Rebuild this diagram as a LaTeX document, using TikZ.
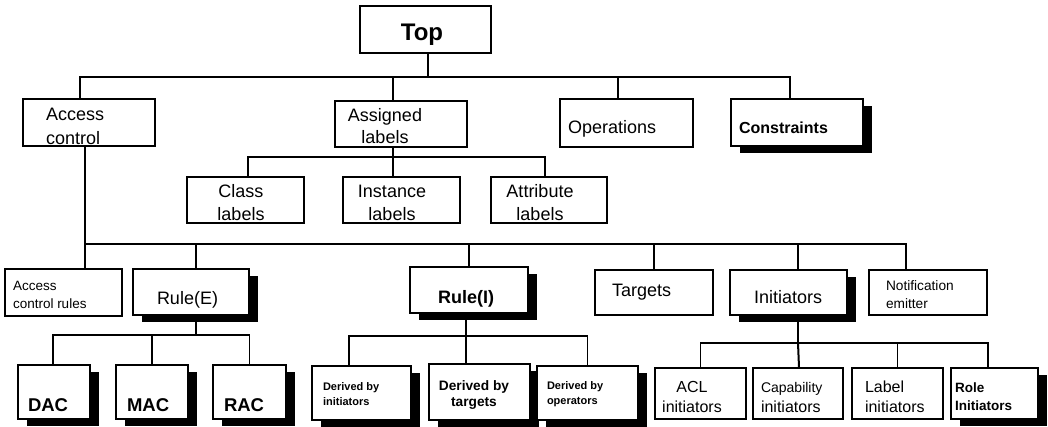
\documentclass[tikz,border=0pt]{standalone}
\usepackage{fontspec}
\setmainfont{Liberation Sans}
\usetikzlibrary{shadows}
\newcommand\twol[3]{\begin{tabular}[t]{@{}#1@{}}#2\\#3\end{tabular}}
\newcommand\mkbox[6]{\node[box,#6,minimum width={(#4-#2)*1pt},minimum height={(#5-#3)*1pt}] (#1) at ({(#2+#4)/2},{(#3+#5)/2}) {};}
\tikzset{
  box/.style={draw, line width=1.4pt, fill=white, rectangle, inner sep=0pt},
  shd/.style={general shadow={fill=black, shadow xshift=9pt, shadow yshift=-7pt}},
  lin/.style={line width=1.4pt},
  thk/.style={line width=2pt},
  txt/.style={inner sep=0pt, outer sep=0pt},
  f18/.style={font=\fontsize{18}{23}\selectfont},
}
\begin{document}
\begin{tikzpicture}[x=1pt, y=-1pt]
\fill[white] (0,0) rectangle (1048,426);
\useasboundingbox (0,0) rectangle (1048,426);
% boxes
\mkbox{top}{360}{6}{491}{53}{}
\mkbox{acc}{23}{99}{155}{146}{}
\mkbox{asg}{335}{101}{467}{147}{}
\mkbox{ops}{560}{99}{693}{147}{}
\mkbox{con}{731}{99}{863}{146}{shd}
\mkbox{cls}{187}{177}{304}{223}{}
\mkbox{ins}{343}{177}{460}{223}{}
\mkbox{att}{491}{177}{607}{223}{}
\mkbox{acr}{5}{269}{122}{316}{}
\mkbox{re}{133}{269}{249}{315}{shd}
\mkbox{ri}{410}{267}{528}{313}{shd}
\mkbox{tg}{595}{270}{713}{315}{}
\mkbox{ini}{730}{270}{847}{315}{shd}
\mkbox{ne}{869}{270}{987}{315}{}
\mkbox{dac}{18}{365}{90}{419}{shd}
\mkbox{mac}{116}{365}{188}{419}{shd}
\mkbox{rac}{213}{365}{286}{419}{shd}
\mkbox{dbi}{312}{366}{411}{420}{shd}
\mkbox{dbt}{429}{364}{530}{420}{shd}
\mkbox{dbo}{537}{366}{638}{420}{shd}
\mkbox{acl}{655}{368}{746}{419}{}
\mkbox{cap}{753}{368}{843}{419}{}
\mkbox{lab}{852}{368}{943}{419}{}
\mkbox{rol}{951}{368}{1038}{419}{shd}
% junctions
\coordinate (j0) at (428,77);
\coordinate (j1) at (393,157);
\coordinate (j2) at (85,244);
\coordinate (j3) at (196,335);
\coordinate (j4) at (466,336);
\coordinate (j5) at (798,343);
% connectors
\draw[thk] ([xshift=2.5pt]top.south) -- (j0);
\draw[lin] ([xshift=-9pt]acc.north) |- (j0);
\draw[lin] ([xshift=-8pt]asg.north) |- (j0);
\draw[lin] ([xshift=-8.5pt]ops.north) |- (j0);
\draw[lin] ([xshift=-7pt]con.north) |- (j0);
\draw[lin] ([xshift=-8pt]asg.south) -- (j1);
\draw[lin] ([xshift=2.5pt]cls.north) |- (j1);
\draw[lin] ([xshift=-8.5pt]ins.north) |- (j1);
\draw[lin] ([xshift=-4pt]att.north) |- (j1);
\draw[lin] ([xshift=-4pt]acc.south) -- (j2);
\draw[lin] ([xshift=21.5pt]acr.north) |- (j2);
\draw[lin] ([xshift=5pt]re.north) |- (j2);
\draw[lin] (ri.north) |- (j2);
\draw[lin] (tg.north) |- (j2);
\draw[lin] ([xshift=9.5pt]ini.north) |- (j2);
\draw[lin] ([xshift=-22pt]ne.north) |- (j2);
\draw[lin] ([xshift=5pt]re.south) -- (j3);
\draw[lin] ([xshift=-1pt]dac.north) |- (j3);
\draw[lin] (mac.north) |- (j3);
\draw[lin] (rac.north) |- (j3);
\draw[thk] ([xshift=-3pt]ri.south) -- (j4);
\draw[lin] ([xshift=-12.5pt]dbi.north) |- (j4);
\draw[thk] ([xshift=-13.5pt]dbt.north) -- (j4);
\draw[lin] (dbo.north) |- (j4);
\draw[thk] ([xshift=9.5pt]ini.south) -- (j5);
\draw[lin] (acl.north) |- (j5);
\draw[thk] ([xshift=1pt]cap.north) -- (j5);
\draw[lin] (lab.north) |- (j5);
\draw[lin] ([xshift=-6.5pt]rol.north) |- (j5);
% texts
\node[txt, anchor=base, font=\bfseries\fontsize{24}{28}\selectfont] (t-top) at (422,40) {Top};
\node[txt, anchor=base west, font=\fontsize{18}{24}\selectfont] (t-acc) at (46,120) {\twol{l}{Access}{control}};
\node[txt, anchor=base, font=\fontsize{18}{22}\selectfont] (t-asg) at (385,121) {\twol{c}{Assigned}{labels}};
\node[txt, anchor=base west, f18] (t-ops) at (568,133) {Operations};
\node[txt, anchor=base west, font=\bfseries\fontsize{16}{20}\selectfont] (t-con) at (739,133) {Constraints};
\node[txt, anchor=base, f18] (t-cls) at (241,197) {\twol{c}{Class}{labels}};
\node[txt, anchor=base, f18] (t-ins) at (392,197) {\twol{c}{Instance}{labels}};
\node[txt, anchor=base, f18] (t-att) at (540,197) {\twol{c}{Attribute}{labels}};
\node[txt, anchor=base west, font=\fontsize{13.5}{18}\selectfont] (t-acr) at (13,290) {\twol{l}{Access}{control rules}};
\node[txt, anchor=base west, f18] (t-re) at (157,304) {Rule(E)};
\node[txt, anchor=base west, font=\bfseries\fontsize{18}{22}\selectfont] (t-ri) at (438,303) {Rule(I)};
\node[txt, anchor=base west, f18] (t-tg) at (612,296) {Targets};
\node[txt, anchor=base west, f18] (t-ini) at (754,303) {Initiators};
\node[txt, anchor=base west, font=\fontsize{13.7}{18}\selectfont] (t-ne) at (886,290) {\twol{l}{Notification}{emitter}};
\node[txt, anchor=base west, font=\bfseries\fontsize{18.5}{22}\selectfont] (t-dac) at (28,411) {DAC};
\node[txt, anchor=base west, font=\bfseries\fontsize{18.5}{22}\selectfont] (t-mac) at (127,411) {MAC};
\node[txt, anchor=base west, font=\bfseries\fontsize{18.5}{22}\selectfont] (t-rac) at (224,411) {RAC};
\node[txt, anchor=base west, font=\bfseries\fontsize{11}{15}\selectfont] (t-dbi) at (323,390) {\twol{l}{Derived by}{initiators}};
\node[txt, anchor=base, font=\bfseries\fontsize{13.7}{16}\selectfont] (t-dbt) at (474,390) {\twol{c}{Derived by}{targets}};
\node[txt, anchor=base west, font=\bfseries\fontsize{11}{15}\selectfont] (t-dbo) at (547,389) {\twol{l}{Derived by}{operators}};
\node[txt, anchor=base, font=\fontsize{16}{20}\selectfont] (t-acl) at (692,392) {\twol{c}{ACL}{initiators}};
\node[txt, anchor=base west, font=\fontsize{16}{20}\selectfont] (t-cap) at (761,392) {\twol{l}{{\fontsize{14}{20}\selectfont Capability}}{initiators}};
\node[txt, anchor=base west, font=\fontsize{16}{20}\selectfont] (t-lab) at (865,392) {\twol{l}{Label}{initiators}};
\node[txt, anchor=base west, font=\bfseries\fontsize{13.5}{18}\selectfont] (t-rol) at (955,392) {\twol{l}{Role}{Initiators}};
\end{tikzpicture}
\end{document}
